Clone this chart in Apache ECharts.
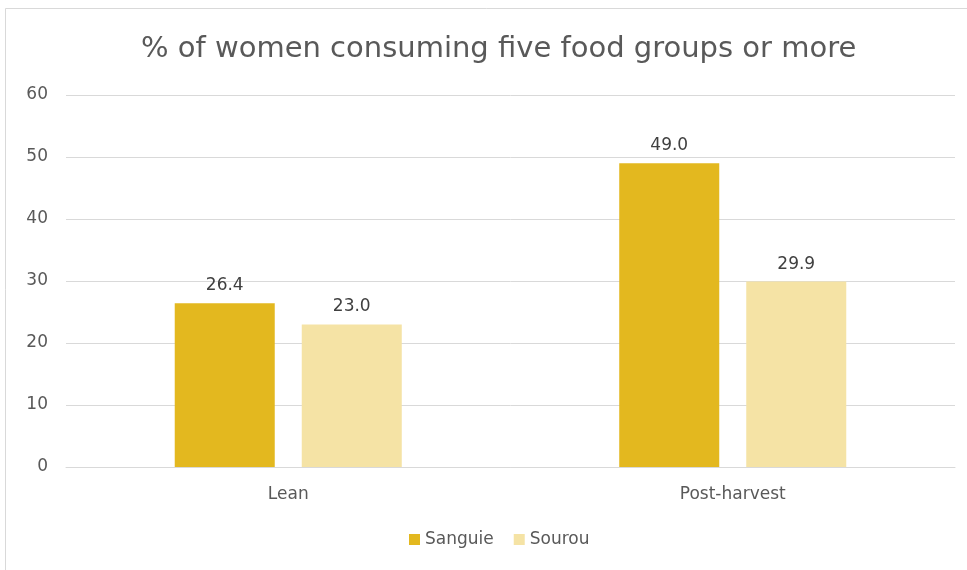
<!DOCTYPE html>
<html>
<head>
<meta charset="utf-8">
<script src="https://cdn.jsdelivr.net/npm/echarts@6/dist/echarts.min.js"></script>
<style>
  html, body { margin: 0; padding: 0; background: #fff; }
  #main { width: 967px; height: 570px; }
</style>
</head>
<body>
<div id="main"></div>
<script>
// data
var categories = ['Lean', 'Post-harvest']
var sanguie = [26.4, 49.0]
var sourou = [23.0, 29.9]
var yTicks = [0, 10, 20, 30, 40, 50, 60]

var font = '"DejaVu Sans", sans-serif'

var myChart = echarts.init(document.querySelector('#main'))

var option = {
    backgroundColor: '#fff',
    animation: false,
    textStyle: { fontFamily: font },
    graphic: [{
        type: 'rect',
        shape: { x: 5.5, y: 8.5, width: 1000, height: 600 },
        style: { fill: 'none', stroke: '#d9d9d9', lineWidth: 1 }
    }],
    title: {
        text: '% of women consuming five food groups or more',
        left: 136,
        top: 30,
        textStyle: { fontFamily: font, fontSize: 29, fontWeight: 'normal', color: '#595959' }
    },
    legend: {
        data: ['Sanguie', 'Sourou'],
        bottom: 17,
        left: 404,
        itemWidth: 11,
        itemHeight: 11,
        itemGap: 20,
        icon: 'rect',
        textStyle: { fontFamily: font, fontSize: 17, color: '#595959' }
    },
    grid: { left: 66, right: 12, top: 95, bottom: 103, containLabel: false },
    xAxis: {
        type: 'category',
        data: categories,
        axisTick: { show: false },
        axisLine: { lineStyle: { color: '#d9d9d9' } },
        axisLabel: { fontFamily: font, fontSize: 17, color: '#595959', margin: 19 }
    },
    yAxis: {
        type: 'value',
        min: yTicks[0],
        max: yTicks[yTicks.length - 1],
        interval: 10,
        axisLine: { show: false },
        axisTick: { show: false },
        splitLine: { lineStyle: { color: '#d9d9d9' } },
        axisLabel: { fontFamily: font, fontSize: 17, color: '#595959', margin: 18 }
    },
    series: [
        {
            name: 'Sanguie',
            type: 'bar',
            data: sanguie,
            barWidth: '22.5%',
            barGap: '27%',
            itemStyle: { color: '#e3b81f' },
            label: {
                show: true, position: 'top', distance: 9,
                formatter: function(p) { return p.value.toFixed(1) },
                fontFamily: font, fontSize: 17, color: '#404040'
            }
        },
        {
            name: 'Sourou',
            type: 'bar',
            data: sourou,
            barWidth: '22.5%',
            itemStyle: { color: '#f5e3a5' },
            label: {
                show: true, position: 'top', distance: 9,
                formatter: function(p) { return p.value.toFixed(1) },
                fontFamily: font, fontSize: 17, color: '#404040'
            }
        }
    ]
}

myChart.setOption(option)
</script>
</body>
</html>
